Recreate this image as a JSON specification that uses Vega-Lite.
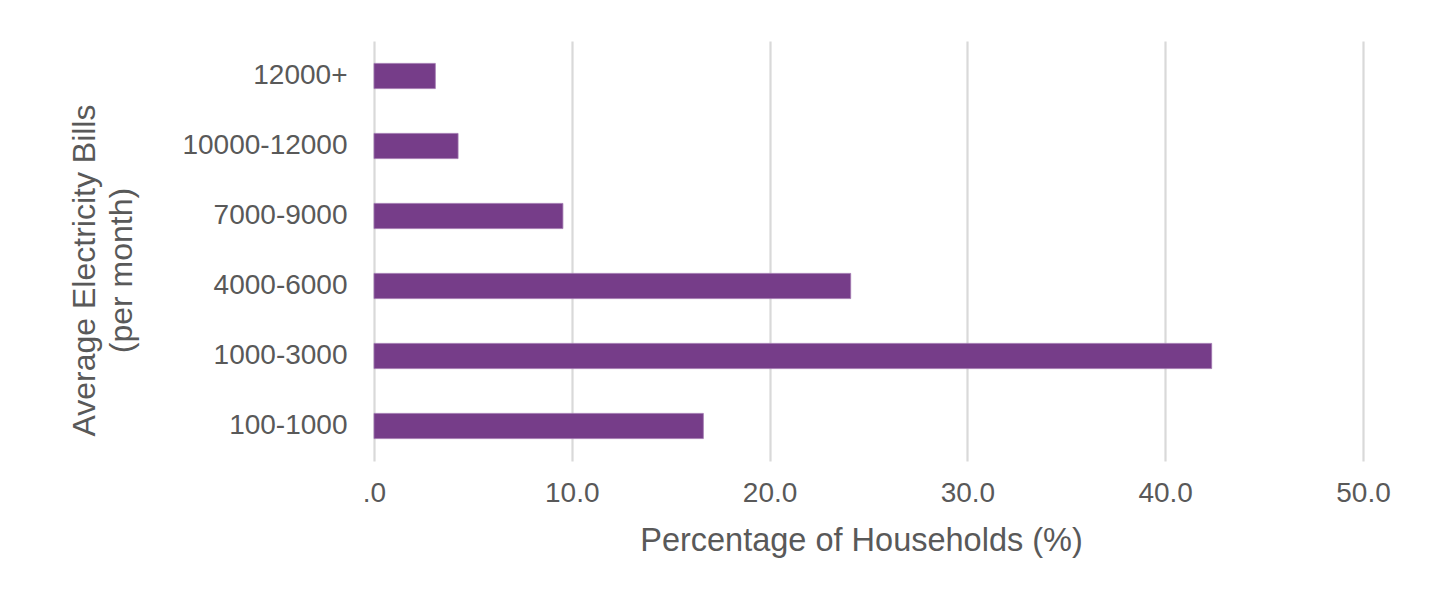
{
  "$schema": "https://vega.github.io/schema/vega-lite/v6.json",
  "width": 989,
  "height": 420,
  "autosize": {"type": "none"},
  "padding": {"left": 374, "top": 41, "right": 74, "bottom": 134},
  "background": "white",
  "config": {
    "view": {"stroke": null},
    "font": "Liberation Sans",
    "axis": {"labelColor": "#595959", "titleColor": "#595959", "labelFont": "Liberation Sans", "titleFont": "Liberation Sans", "titleFontWeight": "normal"}
  },
  "data": {
    "values": [
      {"bill": "12000+", "pct": 3.1},
      {"bill": "10000-12000", "pct": 4.25},
      {"bill": "7000-9000", "pct": 9.55},
      {"bill": "4000-6000", "pct": 24.1},
      {"bill": "1000-3000", "pct": 42.35},
      {"bill": "100-1000", "pct": 16.65}
    ]
  },
  "mark": {"type": "bar", "color": "#763D89", "stroke": "#9F76AE", "strokeWidth": 0.8},
  "encoding": {
    "y": {
      "field": "bill",
      "type": "nominal",
      "sort": ["12000+", "10000-12000", "7000-9000", "4000-6000", "1000-3000", "100-1000"],
      "scale": {"paddingInner": 0.64, "paddingOuter": 0.32},
      "axis": {
        "title": ["Average Electricity Bills", "(per month)"],
        "titleFontSize": 32,
        "titleLineHeight": 37,
        "titleAngle": 270,
        "titleBaseline": "top",
        "titleAlign": "center",
        "titleX": -305,
        "titleY": 229,
        "labelFontSize": 28,
        "labelPadding": 27,
        "ticks": false,
        "domain": false,
        "grid": false
      }
    },
    "x": {
      "field": "pct",
      "type": "quantitative",
      "scale": {"domain": [0, 50], "nice": false},
      "axis": {
        "title": "Percentage of Households (%)",
        "titleFontSize": 32.5,
        "titlePadding": 17,
        "titleX": 487,
        "titleAlign": "center",
        "labelFontSize": 28,
        "labelPadding": 18,
        "values": [0, 10, 20, 30, 40, 50],
        "labelExpr": "datum.value == 0 ? '.0' : format(datum.value, '.1f')",
        "ticks": false,
        "domain": false,
        "grid": true,
        "gridColor": "#d9d9d9",
        "gridWidth": 2.2,
        "labelFlush": false
      }
    }
  }
}
